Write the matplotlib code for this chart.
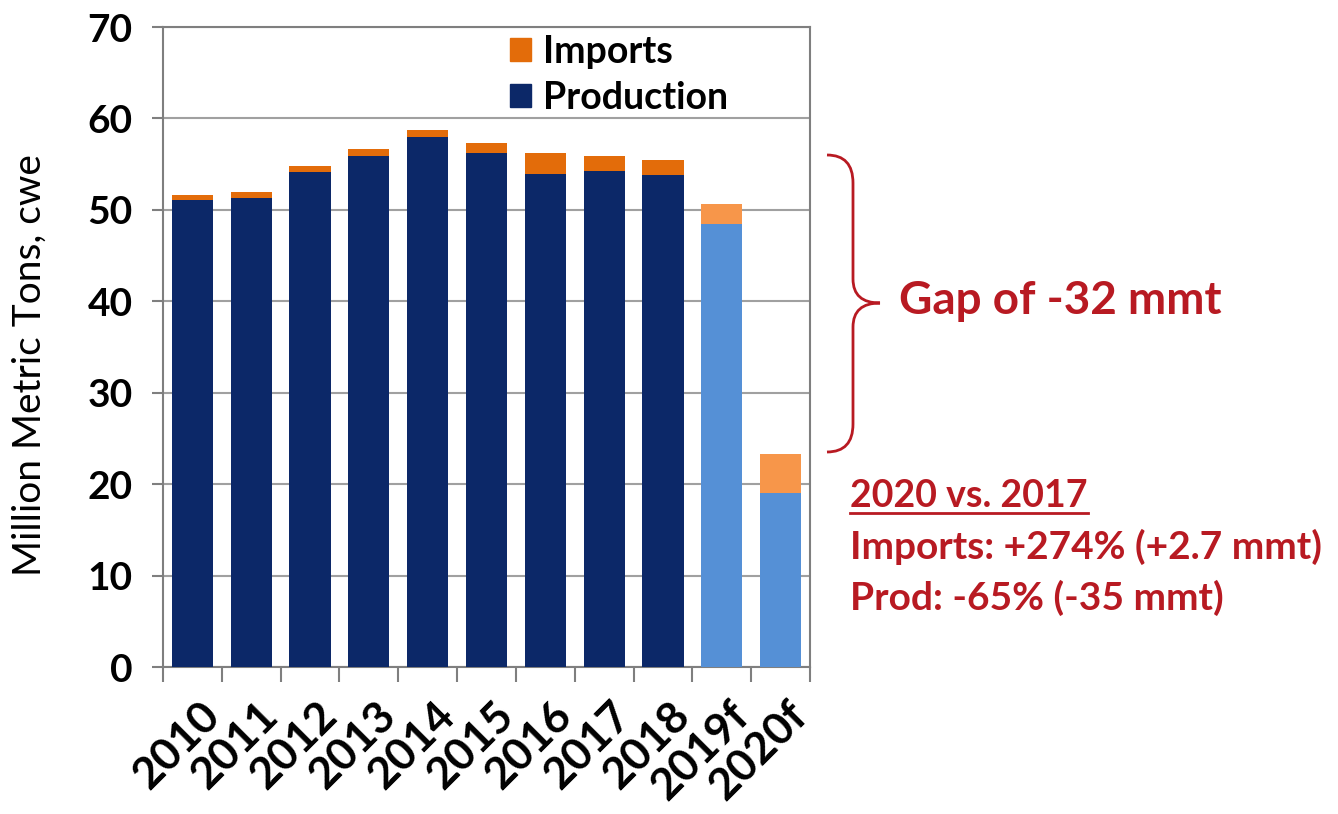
import matplotlib
matplotlib.use("Agg")
import matplotlib.pyplot as plt
import matplotlib.transforms as mtrans
from matplotlib.path import Path
from matplotlib.patches import PathPatch, Patch
import numpy as np

plt.rcParams['font.family'] = ['Lato', 'DejaVu Sans']

categories = ["2010", "2011", "2012", "2013", "2014", "2015", "2016", "2017", "2018", "2019f", "2020f"]
production = [51.1, 51.3, 54.1, 55.9, 58.0, 56.2, 53.9, 54.3, 53.8, 48.4, 19.0]
imports = [0.5, 0.7, 0.7, 0.8, 0.7, 1.1, 2.3, 1.6, 1.6, 2.2, 4.3]
forecast = [False] * 9 + [True, True]

NAVY = "#0c2868"
ORANGE = "#e36c0a"
LBLUE = "#5590d6"
LORANGE = "#f7964a"
RED = "#b81a22"

W, H = 1338, 814
fig = plt.figure(figsize=(W / 100, H / 100), dpi=100)
ax = fig.add_axes([163 / W, 1 - 667 / H, (810 - 163) / W, (667 - 27) / H])

x = np.arange(len(categories))
pc = [LBLUE if f else NAVY for f in forecast]
ic = [LORANGE if f else ORANGE for f in forecast]
ax.bar(x, production, width=0.7, color=pc, zorder=3)
ax.bar(x, imports, bottom=production, width=0.7, color=ic, zorder=3)

ax.set_xlim(-0.5, len(categories) - 0.5)
ax.set_ylim(0, 70)
ax.set_yticks(range(0, 71, 10))
ax.yaxis.grid(True, color="#a0a0a0", linewidth=1.5, zorder=0)
for s in ax.spines.values():
    s.set_color("#7f7f7f")
    s.set_linewidth(1.5)
ax.tick_params(axis="y", labelsize=28, length=8, width=1.5, color="#7f7f7f", pad=14)
for t in ax.get_yticklabels():
    t.set_fontweight("bold")

ax.set_xticks(x)
ax.set_xticklabels(categories, rotation=45, ha="right", va="top", rotation_mode="anchor",
                   fontsize=32, fontweight="bold")
ax.tick_params(axis="x", which="major", length=0, pad=20)
ax.set_xticks(np.arange(-0.5, len(categories), 1.0), minor=True)
ax.tick_params(axis="x", which="minor", length=11, width=1.5, color="#7f7f7f")
offset = mtrans.ScaledTranslation(6 / 100, 0, fig.dpi_scale_trans)
for t in ax.get_xticklabels():
    t.set_transform(t.get_transform() + offset)

ax.set_ylabel("Million Metric Tons, cwe", fontsize=28)
ax.yaxis.set_label_coords((48 - 163) / 647, (667 - 365) / 640)

handles = [Patch(color=ORANGE, label="Imports"), Patch(color=NAVY, label="Production")]
leg = ax.legend(handles=handles, loc="upper left",
                bbox_to_anchor=((510 - 163) / 647, (667 - 35) / 640),
                frameon=False, prop={"size": 27, "weight": "bold"},
                borderpad=0, borderaxespad=0,
                handlelength=0.55, handleheight=0.55, handletextpad=0.33, labelspacing=0.32)

# overlay in pixel coords for annotations
ov = fig.add_axes([0, 0, 1, 1])
ov.set_xlim(0, W)
ov.set_ylim(H, 0)
ov.axis("off")

top, bot, xs, xm, xt = 155, 452, 827, 853, 880
mid = 303
verts = [(xs, top), (xm, top), (xm, top + 28),
         (xm, mid - 24), (xm, mid), (xt, mid),
         (xm, mid), (xm, mid + 24),
         (xm, bot - 28), (xm, bot), (xs, bot)]
codes = [Path.MOVETO, Path.CURVE3, Path.CURVE3,
         Path.LINETO, Path.CURVE3, Path.CURVE3,
         Path.CURVE3, Path.CURVE3,
         Path.LINETO, Path.CURVE3, Path.CURVE3]
ov.add_patch(PathPatch(Path(verts, codes), facecolor="none", edgecolor=RED, linewidth=2))

ov.text(899, 314, "Gap of -32 mmt", color=RED, fontsize=33, fontweight="bold", va="baseline", ha="left")
t1 = ov.text(850, 507, "2020 vs. 2017", color=RED, fontsize=27, fontweight="bold", va="baseline", ha="left")
ov.text(850, 559, "Imports: +274% (+2.7 mmt)", color=RED, fontsize=28, fontweight="bold", va="baseline", ha="left")
ov.text(850, 610, "Prod: -65% (-35 mmt)", color=RED, fontsize=28, fontweight="bold", va="baseline", ha="left")

fig.canvas.draw()
bb = t1.get_window_extent()
ov.plot([850, 850 + bb.width], [513, 513], color=RED, linewidth=2)

fig.savefig("out.png", dpi=100)
